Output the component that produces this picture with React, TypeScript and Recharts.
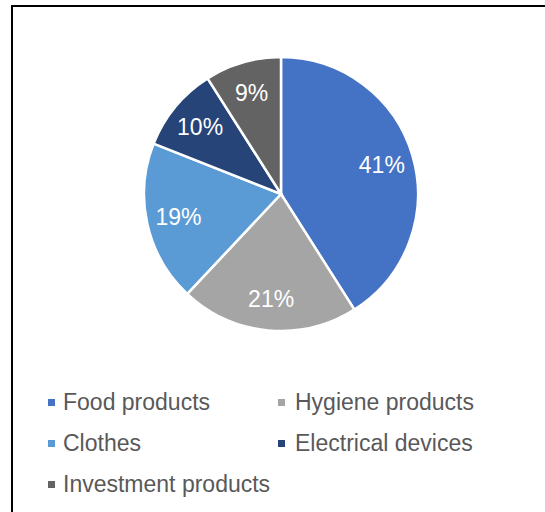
import React from "react";
import { PieChart, Pie, Cell, Legend } from "recharts";

const categories = ["Food products", "Hygiene products", "Clothes", "Electrical devices", "Investment products"];
const shares = [41, 21, 19, 10, 9];
const colors = ["#4472C4", "#A5A5A5", "#5B9BD5", "#264478", "#636363"];

const data = categories.map((name, i) => ({ name, value: shares[i] }));
const RAD = Math.PI / 180;
const FONT = "'Liberation Sans', Arial, sans-serif";

const renderLabel = (props: any) => {
  const { cx, cy, midAngle, value } = props;
  const r = 105;
  const x = cx + r * Math.cos(-midAngle * RAD);
  const y = cy + r * Math.sin(-midAngle * RAD);
  return (
    <text x={x} y={y} fill="#ffffff" textAnchor="middle" dominantBaseline="central" fontSize={23} fontFamily={FONT}>
      {`${value}%`}
    </text>
  );
};

const LegendContent = () => (
  <div style={{ position: "relative", width: 545, height: 120, fontFamily: FONT, fontSize: 23, color: "#595959" }}>
    {categories.map((c, i) => {
      const col = i % 2;
      const row = Math.floor(i / 2);
      const left = col === 0 ? 48 : 278;
      const top = row * 41;
      return (
        <div key={c} style={{ position: "absolute", left, top, height: 30, display: "flex", alignItems: "center", whiteSpace: "nowrap" }}>
          <span style={{ display: "inline-block", width: 7, height: 7, background: colors[i], marginRight: col === 0 ? 8 : 10 }} />
          <span>{c}</span>
        </div>
      );
    })}
  </div>
);

export default function App() {
  return (
    <div style={{ position: "absolute", left: 0, top: 0, width: 545, height: 512, overflow: "hidden", background: "#fff" }}>
      <div style={{ position: "absolute", left: 11, top: 5, width: 560, height: 540, border: "2px solid #000", boxSizing: "border-box" }} />
      <div style={{ position: "absolute", left: 0, top: 0 }}>
        <PieChart width={545} height={512} margin={{ top: 0, right: 0, bottom: 0, left: 0 }}>
          <Pie
            data={data}
            dataKey="value"
            nameKey="name"
            cx={281}
            cy={194}
            outerRadius={137}
            startAngle={90}
            endAngle={-270}
            stroke="#ffffff"
            strokeWidth={2.5}
            label={renderLabel}
            labelLine={false}
            isAnimationActive={false}
          >
            {data.map((d, i) => (
              <Cell key={d.name} fill={colors[i]} />
            ))}
          </Pie>
          <Legend
            content={<LegendContent />}
            wrapperStyle={{ position: "absolute", left: 0, top: 387, width: 545 }}
          />
        </PieChart>
      </div>
    </div>
  );
}
